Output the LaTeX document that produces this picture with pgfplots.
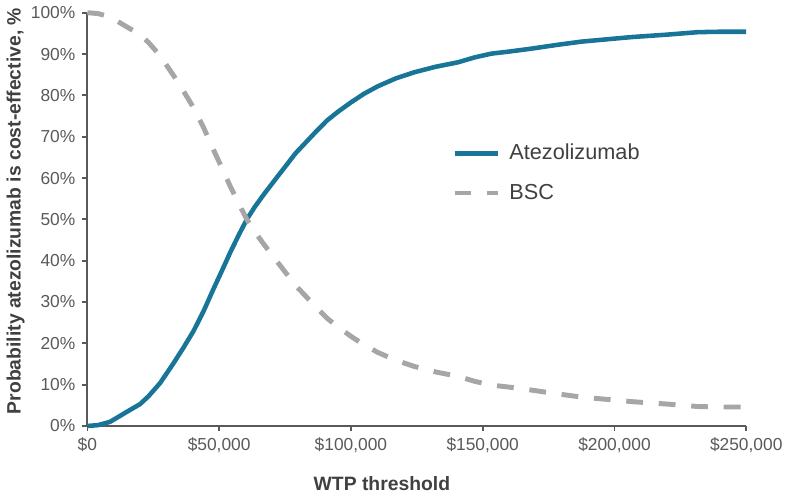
\documentclass[border=0pt]{standalone}
\usepackage{fontspec}
\setmainfont{Liberation Sans}
\usepackage{pgfplots}
\pgfplotsset{compat=1.18}
\definecolor{atezo}{RGB}{24,117,152}
\definecolor{bsc}{RGB}{166,166,166}
\definecolor{axisgray}{RGB}{89,89,89}
\definecolor{labelgray}{RGB}{64,64,64}

\begin{document}
\begin{tikzpicture}
\begin{axis}[
  width=334pt, height=209.5pt, scale only axis,
  xmin=0, xmax=250000, ymin=0, ymax=100,
  axis x line*=bottom, axis y line*=left,
  axis line style={axisgray, line width=1.1pt},
  tick style={axisgray, line width=0.9pt},
  tick align=outside, major tick length=2.6pt,
  scaled x ticks=false,
  xtick={0,50000,100000,150000,200000,250000},
  xticklabels={{\$0},{\$50,000},{\$100,000},{\$150,000},{\$200,000},{\$250,000}},
  ytick={0,10,20,30,40,50,60,70,80,90,100},
  yticklabels={0\%,10\%,20\%,30\%,40\%,50\%,60\%,70\%,80\%,90\%,100\%},
  ticklabel style={font=\fontsize{8.8}{10}\selectfont, text=axisgray},
  xlabel={WTP threshold},
  ylabel={Probability atezolizumab is cost-effective, \%},
  label style={font=\fontsize{9.8}{11}\selectfont\bfseries, text=labelgray},
  xlabel style={at={(axis description cs:0.447,-0.140)}, anchor=center},
  ylabel style={at={(axis description cs:-0.109,0.52)}, anchor=center},
  legend style={draw=none, fill=none, at={(axis description cs:0.553,0.693)},
    anchor=north west, font=\fontsize{11}{13}\selectfont, text=labelgray,
    row sep=6.8pt, inner sep=0pt, nodes={inner xsep=4.5pt}},
  legend cell align=left,
  legend image code/.code={\draw[#1] (0pt,0pt) -- (22pt,0pt);},
  clip=false,
]
\addplot[atezo, line width=2.3pt, line join=round] coordinates {
  (0,0) (4000,0.2) (8600,1.0) (14900,3.4) (20000,5.3) (23200,7.2)
  (27600,10.4) (32700,15.2) (36500,19.0) (40300,23.0) (44100,27.8)
  (47800,33.1) (51000,37.5) (54200,42.0) (57500,46.3) (60500,50.0)
  (63500,53.0) (66800,55.9) (70500,59.0) (74400,62.2) (79000,66.0)
  (83300,68.9) (87000,71.4) (90900,73.9) (95000,76.0) (100000,78.3)
  (105000,80.4) (110200,82.2) (117000,84.1) (124100,85.6) (132000,86.9)
  (140600,88.0) (147000,89.2) (153300,90.1) (160000,90.6) (168400,91.3)
  (178000,92.2) (187400,93.0) (196000,93.5) (206400,94.1) (220000,94.7)
  (231800,95.3) (240000,95.4) (250000,95.4)
};
\addlegendentry{Atezolizumab}
\addplot[bsc, line width=2.5pt, dash pattern=on 8.5pt off 8pt] coordinates {
  (0,100) (4000,99.8) (8600,99.0) (14900,96.6) (20000,94.7) (23200,92.8)
  (27600,89.6) (32700,84.8) (36500,81.0) (40300,77.0) (44100,72.2)
  (47800,66.9) (51000,62.5) (54200,58.0) (57500,53.7) (60500,50.0)
  (63500,47.0) (66800,44.1) (70500,41.0) (74400,37.8) (79000,34.0)
  (83300,31.1) (87000,28.6) (90900,26.1) (95000,24.0) (100000,21.7)
  (105000,19.6) (110200,17.8) (117000,15.9) (124100,14.4) (132000,13.1)
  (140600,12.0) (147000,10.8) (153300,9.9) (160000,9.4) (168400,8.7)
  (178000,7.8) (187400,7.0) (196000,6.5) (206400,5.9) (220000,5.3)
  (231800,4.7) (240000,4.6) (250000,4.6)
};
\addlegendentry{BSC}
\end{axis}
\end{tikzpicture}
\end{document}
